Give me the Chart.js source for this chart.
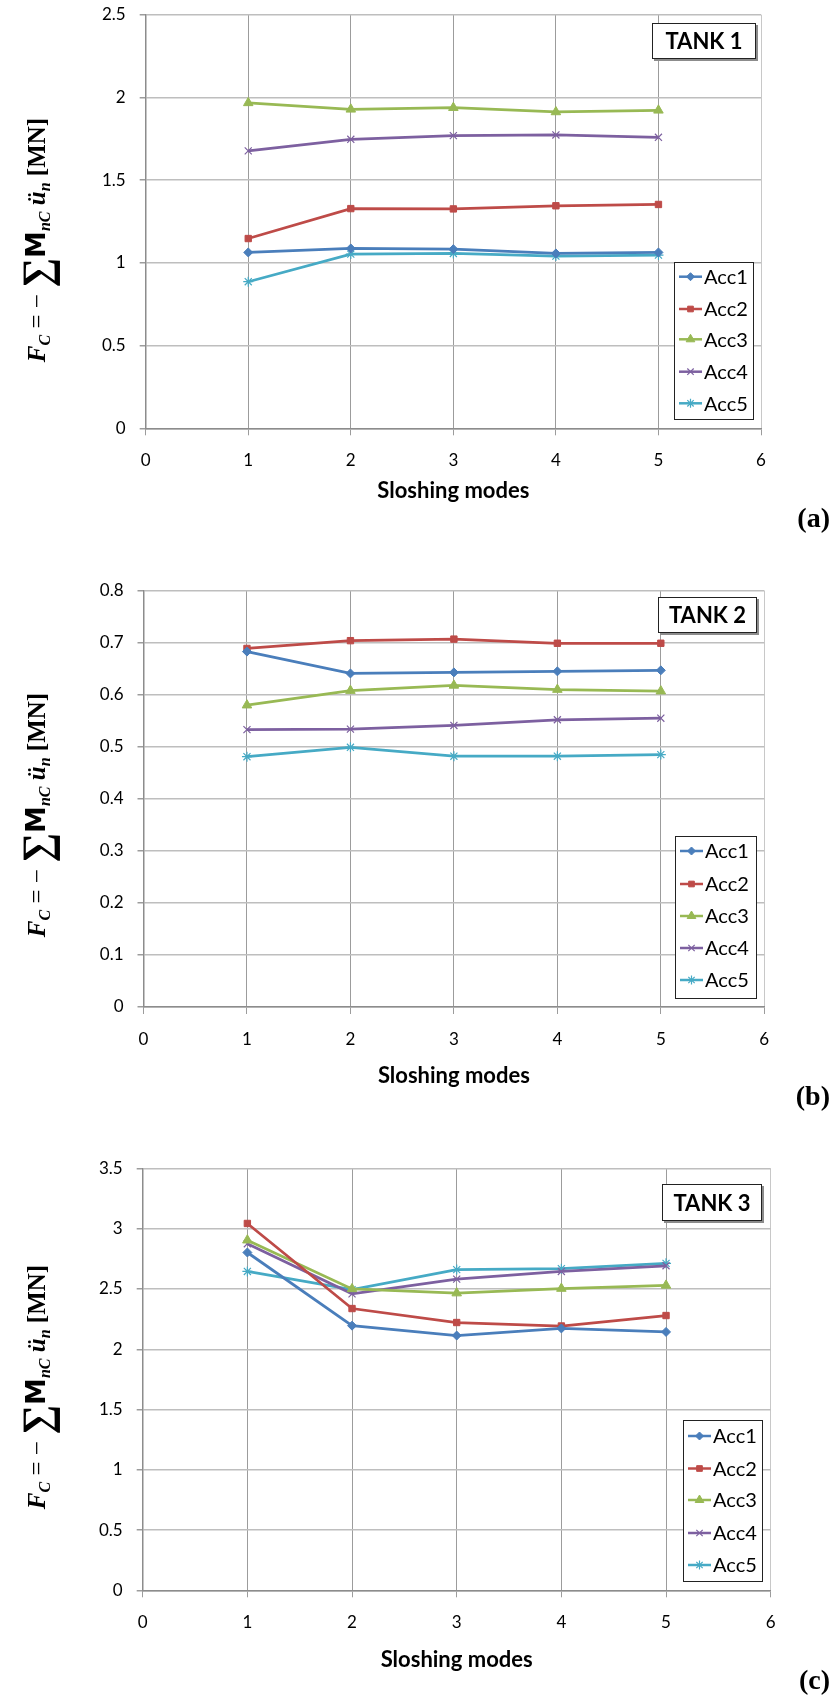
<!DOCTYPE html>
<html><head><meta charset="utf-8">
<script src="https://cdn.jsdelivr.net/npm/chart.js@4.4.0/dist/chart.umd.min.js"></script>
<style>
html,body{margin:0;padding:0;background:#fff;}
body{width:832px;height:1699px;position:relative;overflow:hidden;}
canvas{position:absolute;left:0;}
</style></head><body>
<canvas id="c1" width="832" height="545" style="top:0px"></canvas>
<canvas id="c2" width="832" height="580" style="top:545px"></canvas>
<canvas id="c3" width="832" height="574" style="top:1125px"></canvas>
<script>
// ---------- data ----------
const modes = [1, 2, 3, 4, 5];
const xTickValues = [0, 1, 2, 3, 4, 5, 6];
const seriesNames = ['Acc1', 'Acc2', 'Acc3', 'Acc4', 'Acc5'];

const tank1Acc1 = [1.063, 1.087, 1.083, 1.057, 1.063];
const tank1Acc2 = [1.147, 1.328, 1.326, 1.345, 1.353];
const tank1Acc3 = [1.967, 1.928, 1.938, 1.912, 1.922];
const tank1Acc4 = [1.677, 1.747, 1.769, 1.773, 1.759];
const tank1Acc5 = [0.886, 1.053, 1.057, 1.041, 1.047];
const tank1YTicks = [0, 0.5, 1, 1.5, 2, 2.5];

const tank2Acc1 = [0.683, 0.641, 0.643, 0.645, 0.647];
const tank2Acc2 = [0.689, 0.704, 0.707, 0.699, 0.699];
const tank2Acc3 = [0.580, 0.608, 0.618, 0.610, 0.607];
const tank2Acc4 = [0.533, 0.534, 0.541, 0.552, 0.555];
const tank2Acc5 = [0.481, 0.499, 0.482, 0.482, 0.485];
const tank2YTicks = [0, 0.1, 0.2, 0.3, 0.4, 0.5, 0.6, 0.7, 0.8];

const tank3Acc1 = [2.803, 2.196, 2.114, 2.173, 2.144];
const tank3Acc2 = [3.044, 2.338, 2.222, 2.193, 2.280];
const tank3Acc3 = [2.905, 2.501, 2.466, 2.504, 2.530];
const tank3Acc4 = [2.876, 2.460, 2.582, 2.646, 2.693];
const tank3Acc5 = [2.646, 2.495, 2.661, 2.669, 2.713];
const tank3YTicks = [0, 0.5, 1, 1.5, 2, 2.5, 3, 3.5];

const tankTitles = ['TANK 1', 'TANK 2', 'TANK 3'];
const panelLetters = ['(a)', '(b)', '(c)'];
const xAxisTitle = 'Sloshing modes';

// ---------- styles ----------
const colors = ['#4A7EBB', '#BE4B48', '#98B954', '#7D60A0', '#46AAC5'];
const pointStyles = ['rectRot', 'rect', 'triangle', 'crossRot', 'star'];
const pointRadii = [4.5, 4.5, 5.5, 5, 5];
const pointBorders = [1, 1, 1, 1.2, 1.2];

// ---------- layout (canvas-local px) ----------
const layouts = [
  {id:'c1', h:545, left:145.7, right:761, top:14.7, bottom:428.3,
   tank:{x:652, y:23, w:104, h:36}, legend:{x:674, y:262, w:79, h:157, rows:[276.7, 309, 339.3, 371.7, 403.3]},
   titleY:491, letterY:520, formulaY:240},
  {id:'c2', h:580, left:143.5, right:764.3, top:45.7, bottom:462,
   tank:{x:658, y:52, w:99, h:36}, legend:{x:675, y:291, w:81, h:162, rows:[306, 339, 371, 403, 435]},
   titleY:531, letterY:553, formulaY:270},
  {id:'c3', h:574, left:142.7, right:770.7, top:43.5, bottom:465.3,
   tank:{x:662, y:59, w:100, h:37}, legend:{x:683, y:295, w:79, h:161, rows:[311, 343.5, 375, 408, 440]},
   titleY:535, letterY:557, formulaY:262}
];

function drawMarker(ctx, style, r, x, y) {
  if (Chart.helpers && Chart.helpers.drawPoint) {
    Chart.helpers.drawPoint(ctx, {pointStyle: style, radius: r, borderWidth: ctx.lineWidth, rotation: 0}, x, y);
  }
}

function drawFormula(ctx, cx, cy) {
  const segs = [
    {t:'F', f:'italic bold 25px "Liberation Serif"', dy:0},
    {t:'C', f:'italic bold 16px "Liberation Serif"', dy:5},
    {t:' = \u2212 ', f:'25px "Liberation Serif"', dy:0},
    {t:'\u2211', f:'bold 42px "Liberation Serif"', dy:6},
    {t:'M', f:'bold 27px "DejaVu Sans"', dy:0},
    {t:'nC', f:'italic bold 16px "Liberation Serif"', dy:5},
    {t:' \u00fc', f:'italic bold 25px "Liberation Serif"', dy:0},
    {t:'n', f:'italic bold 16px "Liberation Serif"', dy:5},
    {t:' [MN]', f:'bold 25px "Liberation Serif"', dy:0}
  ];
  ctx.save();
  ctx.translate(cx, cy);
  ctx.rotate(-Math.PI / 2);
  let total = 0;
  segs.forEach(s => { ctx.font = s.f; s.w = ctx.measureText(s.t).width; total += s.w; });
  let x = -total / 2;
  ctx.textBaseline = 'alphabetic';
  ctx.textAlign = 'left';
  ctx.fillStyle = '#000';
  segs.forEach(s => { ctx.font = s.f; ctx.fillText(s.t, x, s.dy); x += s.w; });
  ctx.restore();
}

function overlayPlugin(geo, idx) {
  return {
    id: 'overlay' + idx,
    afterDraw(chart) {
      const ctx = chart.ctx;
      const area = chart.chartArea;
      ctx.save();
      // TANK box
      const t = geo.tank;
      ctx.fillStyle = '#8C8C8C';
      ctx.fillRect(t.x + 2, t.y + 2, t.w, t.h);
      ctx.fillStyle = '#fff';
      ctx.fillRect(t.x, t.y, t.w, t.h);
      ctx.strokeStyle = '#222';
      ctx.lineWidth = 1;
      ctx.strokeRect(t.x + 0.5, t.y + 0.5, t.w - 1, t.h - 1);
      ctx.fillStyle = '#000';
      ctx.font = 'bold 22px Lato';
      ctx.textAlign = 'center';
      ctx.textBaseline = 'middle';
      ctx.fillText(tankTitles[idx], t.x + t.w / 2, t.y + t.h / 2 + 1);
      // legend
      const L = geo.legend;
      ctx.fillStyle = '#fff';
      ctx.fillRect(L.x, L.y, L.w, L.h);
      ctx.strokeStyle = '#222';
      ctx.lineWidth = 1;
      ctx.strokeRect(L.x + 0.5, L.y + 0.5, L.w, L.h);
      chart.data.datasets.forEach((d, i) => {
        const y = L.rows[i];
        ctx.strokeStyle = d.borderColor;
        ctx.lineWidth = 2.5;
        ctx.beginPath();
        ctx.moveTo(L.x + 5, y);
        ctx.lineTo(L.x + 28, y);
        ctx.stroke();
        ctx.fillStyle = d.borderColor;
        ctx.lineWidth = d.pointBorderWidth;
        drawMarker(ctx, d.pointStyle, d.pointRadius - 0.5, L.x + 16.5, y);
        ctx.fillStyle = '#000';
        ctx.font = '20px Lato';
        ctx.textAlign = 'left';
        ctx.textBaseline = 'middle';
        ctx.fillText(d.label, L.x + 30, y + 1);
      });
      // x axis title
      ctx.fillStyle = '#000';
      ctx.font = 'bold 22px Lato';
      ctx.textAlign = 'center';
      ctx.textBaseline = 'middle';
      ctx.fillText(xAxisTitle, (area.left + area.right) / 2, geo.titleY);
      // panel letter
      ctx.font = 'bold 28px "Liberation Serif"';
      ctx.textAlign = 'right';
      ctx.fillText(panelLetters[idx], 830, geo.letterY);
      ctx.restore();
      // y axis formula
      drawFormula(ctx, 45, geo.formulaY);
    }
  };
}

function makeChart(idx, series, yTicks) {
  const geo = layouts[idx];
  const datasets = series.map((vals, i) => ({
    label: seriesNames[i],
    data: modes.map((m, j) => ({x: m, y: vals[j]})),
    borderColor: colors[i],
    backgroundColor: colors[i],
    borderWidth: 2.75,
    pointStyle: pointStyles[i],
    pointRadius: pointRadii[i],
    pointBorderWidth: pointBorders[i],
    pointBackgroundColor: colors[i],
    pointBorderColor: colors[i],
    tension: 0,
    fill: false
  }));
  new Chart(document.getElementById(geo.id), {
    type: 'line',
    data: {datasets},
    options: {
      responsive: false,
      animation: false,
      devicePixelRatio: 1,
      layout: {padding: {left: 0, top: geo.top, right: 832 - geo.right, bottom: 0}},
      plugins: {legend: {display: false}, tooltip: {enabled: false}},
      scales: {
        x: {
          type: 'linear', min: xTickValues[0], max: xTickValues[xTickValues.length - 1],
          afterBuildTicks: s => { s.ticks = xTickValues.map(v => ({value: v})); },
          afterFit: s => { s.height = geo.h - geo.bottom; s.paddingLeft = 0; s.paddingRight = 0; },
          grid: {
            color: c => (c.tick && c.tick.value === 6) ? '#C8C8C8' : '#9C9C9C',
            lineWidth: 1, tickLength: 7, tickColor: '#9C9C9C'
          },
          border: {color: '#8C8C8C', width: 1.5},
          ticks: {font: {family: 'Lato', size: 17}, color: '#000', padding: 15, maxRotation: 0, autoSkip: false}
        },
        y: {
          type: 'linear', min: yTicks[0], max: yTicks[yTicks.length - 1],
          afterBuildTicks: s => { s.ticks = yTicks.map(v => ({value: v})); },
          afterFit: s => { s.width = geo.left; s.paddingTop = 0; s.paddingBottom = 0; },
          grid: {color: '#BEBEBE', lineWidth: 1.5, tickLength: 6, tickColor: '#9C9C9C'},
          border: {color: '#8C8C8C', width: 1.5},
          ticks: {font: {family: 'Lato', size: 17}, color: '#000', padding: 14,
                  callback: v => String(+Number(v).toFixed(2))}
        }
      }
    },
    plugins: [overlayPlugin(geo, idx)]
  });
}

makeChart(0, [tank1Acc1, tank1Acc2, tank1Acc3, tank1Acc4, tank1Acc5], tank1YTicks);
makeChart(1, [tank2Acc1, tank2Acc2, tank2Acc3, tank2Acc4, tank2Acc5], tank2YTicks);
makeChart(2, [tank3Acc1, tank3Acc2, tank3Acc3, tank3Acc4, tank3Acc5], tank3YTicks);
</script>
</body></html>
